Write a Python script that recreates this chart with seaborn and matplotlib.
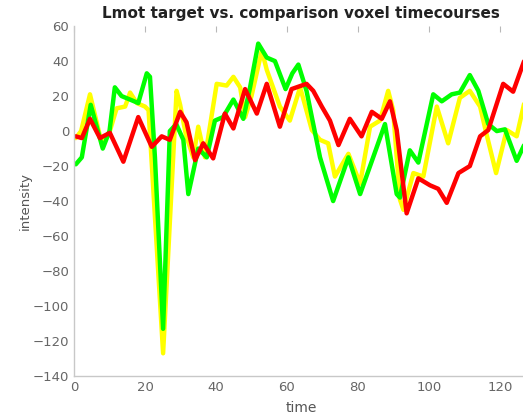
import matplotlib
matplotlib.use("Agg")
import matplotlib.pyplot as plt
import seaborn as sns
import pandas as pd

# ---- data ----
green_t = [0.5, 2.2, 4.7, 8.1, 10.0, 11.5, 13.4, 15.8, 18.1, 20.5, 21.4, 22.8, 25.1, 27.0, 28.8,
           30.8, 32.2, 35.0, 37.4, 39.7, 42.0, 44.9, 47.7, 49.6, 51.9, 54.3, 56.6, 59.6, 61.5,
           63.2, 65.5, 69.3, 73.0, 77.3, 80.6, 87.6, 90.9, 91.8, 94.6, 97.0, 101.2, 103.6,
           106.4, 108.7, 111.5, 113.9, 116.7, 119.1, 121.4, 124.7, 127.5]
green_v = [-19, -15, 15, -10, 0, 25, 20, 18, 16, 33, 31, -15, -113, 0, 4,
           -5, -36, -10, -15, 6, 8, 18, 7, 25, 50, 42, 40, 24, 33,
           38, 23, -15, -40, -15, -36, 4, -36, -38, -11, -18, 21, 17,
           21, 22, 32, 23, 4, 0, 1, -17, -5]

yellow_t = [0.5, 2.0, 4.5, 7.8, 10.1, 12.0, 14.4, 15.8, 17.7, 20.0, 21.0, 25.1, 28.9, 29.9,
            31.5, 33.6, 35.0, 36.9, 40.2, 43.0, 44.9, 46.8, 48.2, 50.0, 52.9, 54.3, 58.0,
            60.8, 63.7, 67.0, 69.3, 71.6, 73.5, 77.3, 80.6, 83.4, 86.2, 88.5, 89.9, 91.8,
            92.8, 95.6, 98.4, 102.2, 105.4, 108.7, 111.5, 114.4, 116.0, 118.9, 121.9,
            124.7, 127.5]
yellow_v = [-4, 0, 21, -7, 0, 13, 14, 22, 16, 14, 12, -127, 23, 15,
            -2, -15, 2.5, -15, 27, 26, 31, 25, 8, 20, 46, 35, 14,
            6, 25, 0.6, -5, -7, -26, -13, -30, 2.5, 6, 23, 12, -39,
            -45, -24, -26, 14, -7, 19, 23, 14, 0, -24, 0.6,
            -3, 22]

red_t = [0.5, 2.2, 4.5, 7.3, 10.1, 13.9, 18.1, 21.9, 24.7, 27.0, 29.9, 31.7, 34.1, 36.4,
         39.2, 42.5, 44.9, 48.2, 51.5, 54.3, 58.0, 61.3, 65.5, 67.4, 69.8, 72.1, 74.5,
         77.7, 81.0, 83.9, 86.7, 89.0, 90.9, 93.7, 97.0, 100.3, 102.6, 105.0, 108.3,
         111.5, 114.4, 116.7, 120.9, 123.7, 127.5]
red_v = [-3, -4, 7, -4, -1, -17.5, 8, -9, -3, -5, 11, 5, -16.6, -7,
         -15.6, 10, 1.5, 24, 10, 27, 2.5, 24, 27, 23, 14, 6, -8,
         7, -3, 11, 7, 17, 0.6, -47, -27, -31, -33, -41, -24,
         -20, -3, 0.6, 27, 22.5, 44]

x_ticks = [0, 20, 40, 60, 80, 100, 120]
y_ticks = [-140, -120, -100, -80, -60, -40, -20, 0, 20, 40, 60]

sns.set_style("white")
plt.rcParams['font.family'] = ['DejaVu Sans']

fig = plt.figure(figsize=(5.23, 4.16), dpi=100)
ax = fig.add_axes([0.1415, 0.096, 0.8688, 0.8413])

lw = 3.2
for t, v, c in [(yellow_t, yellow_v, "#ffff00"),
                (green_t, green_v, "#00ff00"),
                (red_t, red_v, "#ff0000")]:
    df = pd.DataFrame({"time": t, "intensity": v})
    sns.lineplot(data=df, x="time", y="intensity", color=c, linewidth=lw,
                 ax=ax, sort=False, solid_joinstyle="round", solid_capstyle="round")

ax.set_xlim(0, 128)
ax.set_ylim(-140, 60)
ax.set_xticks(x_ticks)
ax.set_yticks(y_ticks)
ax.tick_params(direction="in", length=4, width=0.8, color="#b8b8b8",
               labelcolor="#666666", labelsize=9.5, top=True, right=False)
for s in ["left", "bottom"]:
    ax.spines[s].set_color("#c8c8c8")
    ax.spines[s].set_linewidth(1.0)
ax.spines["top"].set_visible(False)
ax.spines["right"].set_visible(False)

ax.set_xlabel("time", fontsize=10, color="#555555", labelpad=5)
ax.set_ylabel("intensity", fontsize=9.5, color="#555555", labelpad=1)
ax.set_title("Lmot target vs. comparison voxel timecourses", fontsize=11,
             fontweight="bold", color="#222222", pad=6)

fig.savefig("out.png", dpi=100, facecolor="white")
